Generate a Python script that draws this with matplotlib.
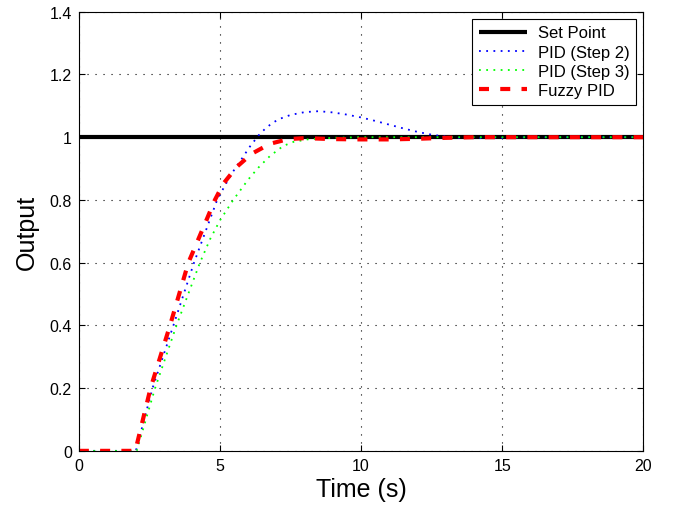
import matplotlib
matplotlib.use("Agg")
import matplotlib.pyplot as plt
import numpy as np

plt.rcParams['font.family'] = ['Liberation Sans', 'DejaVu Sans']

# set point
t_sp = [0, 20]
y_sp = [1, 1]

# PID (Step 2)
t_pid2 = [0, 2.02, 2.61, 3.35, 4.08, 4.9, 5.2, 5.46, 5.77, 6.06, 6.36, 6.6, 6.85, 7.1, 7.5,
          8.0, 8.5, 9.0, 9.5, 10.0, 10.5, 11.0, 11.5, 12.0, 12.5, 13.0, 13.5, 14.0, 15.0, 16.0, 20.0]
y_pid2 = [0, 0, 0.2, 0.4, 0.6, 0.8, 0.85, 0.89, 0.931, 0.97, 1.005, 1.027, 1.045, 1.058, 1.071,
          1.08, 1.083, 1.079, 1.072, 1.063, 1.052, 1.04, 1.028, 1.017, 1.008, 1.002, 0.998, 0.997,
          0.998, 1.0, 1.0]

# PID (Step 3)
t_pid3 = [0, 2.05, 2.7, 3.46, 4.29, 4.65, 5.0, 5.47, 6.0, 6.36, 6.77, 7.24, 7.6, 8.1, 9.0, 10.0, 20.0]
y_pid3 = [0, 0, 0.2, 0.4, 0.6, 0.675, 0.735, 0.8, 0.865, 0.903, 0.94, 0.972, 0.985, 0.993, 0.998,
          1.0, 1.0]

# Fuzzy PID
t_fuzzy = [0, 2.0, 2.54, 3.23, 3.88, 4.4, 4.82, 5.12, 5.59, 6.12, 6.77, 7.42, 8.0, 9.0, 10.0,
           11.0, 12.0, 13.0, 14.0, 20.0]
y_fuzzy = [0, 0, 0.2, 0.4, 0.6, 0.71, 0.8, 0.852, 0.905, 0.947, 0.979, 0.994, 0.997, 0.994, 0.993,
           0.993, 0.995, 0.998, 1.0, 1.0]

fig = plt.figure(figsize=(6.8, 5.1), dpi=100)
ax = fig.add_axes([0.116, 0.114, 0.83, 0.861])

ax.plot(t_sp, y_sp, color='black', lw=3, label='Set Point', solid_capstyle='butt')
ax.plot(t_pid2, y_pid2, color='blue', ls=(0, (1, 3)), lw=1.3, label='PID (Step 2)')
ax.plot(t_pid3, y_pid3, color='#00ff00', ls=(0, (1, 3)), lw=1.3, label='PID (Step 3)')
ax.plot(t_fuzzy, y_fuzzy, color='red', ls='--', lw=3, dashes=(2.4, 2.7), label='Fuzzy PID')

ax.set_xlim(0, 20)
ax.set_ylim(0, 1.4)
ax.set_xticks([0, 5, 10, 15, 20])
ax.set_yticks(np.arange(0, 1.41, 0.2))
ax.set_yticklabels(['0', '0.2', '0.4', '0.6', '0.8', '1', '1.2', '1.4'])
ax.tick_params(direction='in', top=True, right=True, labelsize=11.5, length=4, pad=5)
ax.grid(True, color='black', ls=(0, (1, 6.2)), lw=0.8)

ax.set_xlabel('Time (s)', fontsize=18, labelpad=3)
ax.set_ylabel('Output', fontsize=18, labelpad=8)

leg = ax.legend(loc='upper right', fontsize=12, fancybox=False, framealpha=1,
                edgecolor='black', borderaxespad=0.42, handlelength=2.9,
                handletextpad=0.65, labelspacing=0.25, borderpad=0.4)
leg.get_frame().set_linewidth(0.8)

fig.savefig('out.png', dpi=100)
